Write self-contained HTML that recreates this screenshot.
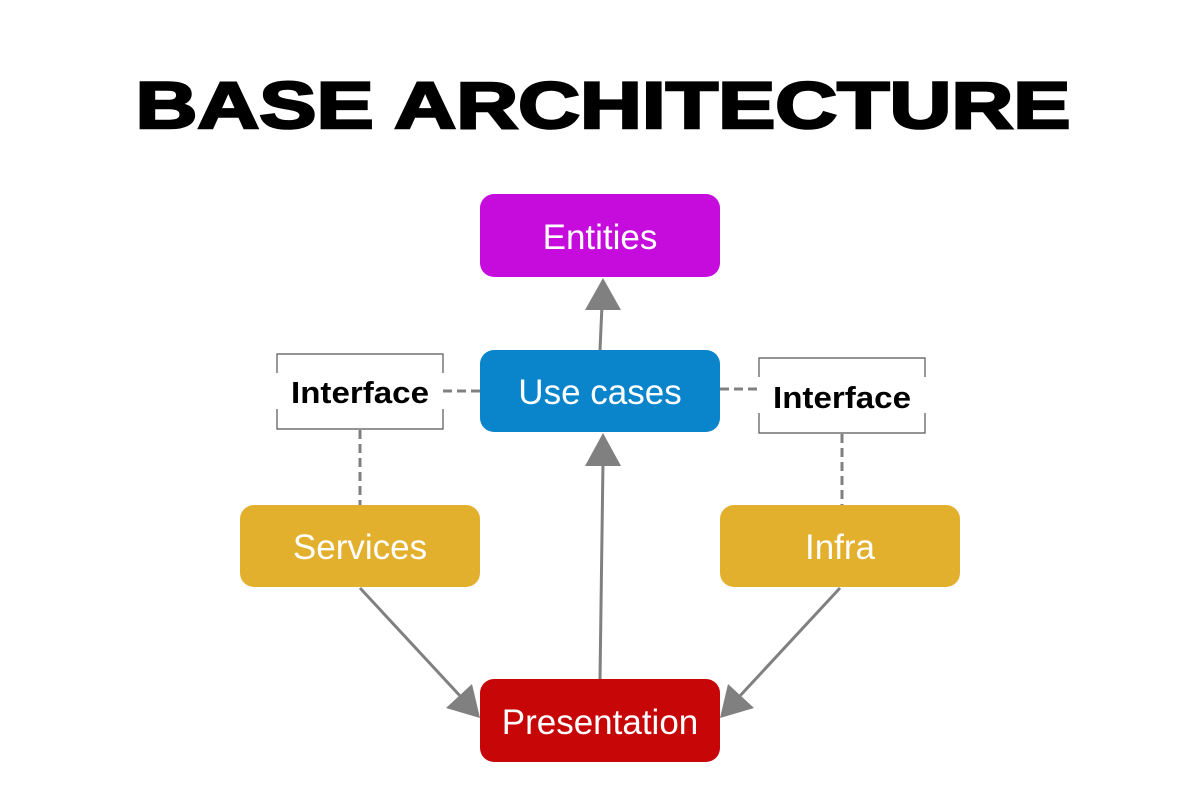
<!DOCTYPE html>
<html><head><meta charset="utf-8"><style>
html,body{margin:0;padding:0;background:#fff;}
svg{display:block;}
</style></head><body>
<svg width="1200" height="800" viewBox="0 0 1200 800" xmlns="http://www.w3.org/2000/svg">
<text x="603" y="128" text-anchor="middle" font-family="Liberation Sans, sans-serif" font-weight="900" font-size="66" textLength="935" lengthAdjust="spacingAndGlyphs" stroke="#000" stroke-width="2.5">BASE ARCHITECTURE</text>

<g stroke="#808080" stroke-width="3" fill="none">
<line x1="600" y1="350" x2="602" y2="305"/>
<line x1="600" y1="679" x2="603" y2="462"/>
<line x1="360" y1="588" x2="462" y2="698"/>
<line x1="840" y1="588" x2="738" y2="698"/>
</g>
<g fill="#808080">
<polygon points="603,278 585,310 621,310"/>
<polygon points="603,433 585,466 621,466"/>
<polygon points="480,718 446,708 472,684"/>
<polygon points="720,718 754,708 728,684"/>
</g>
<g stroke="#808080" stroke-width="3" stroke-dasharray="9,5" fill="none">
<line x1="443" y1="391" x2="480" y2="391"/>
<line x1="720" y1="389" x2="758" y2="389"/>
<line x1="360" y1="430" x2="360" y2="505"/>
<line x1="842" y1="434" x2="842" y2="505"/>
</g>

<rect x="480" y="194" width="240" height="83" rx="14" fill="#c50cdc"/>
<rect x="480" y="350" width="240" height="82" rx="14" fill="#0a84cb"/>
<rect x="240" y="505" width="240" height="82" rx="14" fill="#e3b02e"/>
<rect x="720" y="505" width="240" height="82" rx="14" fill="#e3b02e"/>
<rect x="480" y="679" width="240" height="83" rx="14" fill="#c60607"/>

<g fill="none" stroke="#555" stroke-width="1.2">
<path d="M277,373 V354 H443 V373 M277,409 V429 H443 V409"/>
<path d="M759,377 V358 H925 V377 M759,413 V433 H925 V413"/>
</g>

<g font-family="Liberation Sans, DejaVu Sans, sans-serif" fill="#fff" font-size="35" text-anchor="middle">
<text x="600" y="249">Entities</text>
<text x="600" y="404">Use cases</text>
<text x="360" y="559">Services</text>
<text x="840" y="559">Infra</text>
<text x="600" y="734">Presentation</text>
</g>
<g font-family="Liberation Sans, DejaVu Sans, sans-serif" fill="#000" font-size="31" font-weight="bold" text-anchor="middle">
<text x="360" y="403" textLength="138" lengthAdjust="spacingAndGlyphs">Interface</text>
<text x="842" y="408" textLength="138" lengthAdjust="spacingAndGlyphs">Interface</text>
</g>
</svg>
</body></html>
